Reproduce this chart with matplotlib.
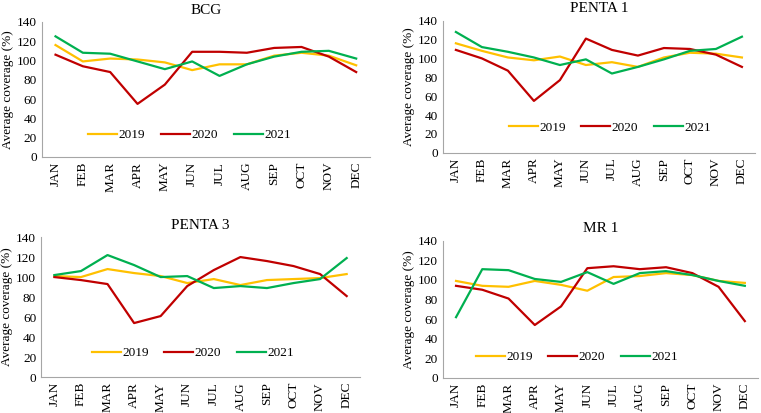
import matplotlib.pyplot as plt
import numpy as np

plt.rcParams['font.family'] = ['Liberation Serif', 'DejaVu Serif']

months = ['JAN', 'FEB', 'MAR', 'APR', 'MAY', 'JUN',
          'JUL', 'AUG', 'SEP', 'OCT', 'NOV', 'DEC']
years = ['2019', '2020', '2021']

bcg_2019 = [116, 99, 102, 101, 98, 90, 96, 96, 105, 108, 105, 95]
bcg_2020 = [106, 94, 88, 55, 75, 109, 109, 108, 113, 114, 104, 88]
bcg_2021 = [125, 108, 107, 99, 91, 99, 84, 96, 104, 109, 110, 102]

penta1_2019 = [116, 108, 101, 98, 102, 93, 96, 91, 101, 106, 105, 101]
penta1_2020 = [109, 100, 87, 55, 77, 121, 109, 103, 111, 110, 104, 91]
penta1_2021 = [128, 112, 107, 101, 93, 99, 84, 91, 99, 108, 110, 123]

penta3_2019 = [101, 100, 108, 104, 101, 94, 98, 92, 97, 98, 99, 103]
penta3_2020 = [100, 97, 93, 54, 61, 91, 107, 120, 116, 111, 103, 81]
penta3_2021 = [102, 106, 122, 112, 100, 101, 89, 91, 89, 94, 98, 119]

mr1_2019 = [99, 94, 93, 99, 95, 89, 103, 104, 107, 105, 99, 97]
mr1_2020 = [94, 90, 81, 54, 73, 112, 114, 111, 113, 107, 93, 58]
mr1_2021 = [62, 111, 110, 101, 98, 108, 96, 107, 109, 105, 99, 94]

colors = ['#FFC000', '#C00000', '#00B050']

panels = [
    ('BCG', [bcg_2019, bcg_2020, bcg_2021], [0.055, 0.620, 0.431, 0.327], (0.45, 0.16)),
    ('PENTA 1', [penta1_2019, penta1_2020, penta1_2021], [0.582, 0.630, 0.410, 0.320], (0.535, 0.19)),
    ('PENTA 3', [penta3_2019, penta3_2020, penta3_2021], [0.054, 0.087, 0.419, 0.339], (0.476, 0.17)),
    ('MR 1', [mr1_2019, mr1_2020, mr1_2021], [0.582, 0.085, 0.414, 0.332], (0.425, 0.15)),
]

fig = plt.figure(figsize=(7.61, 4.13), dpi=100)
x = np.arange(len(months))

for title, series, pos, leg_pos in panels:
    ax = fig.add_axes(pos)
    for vals, year, c in zip(series, years, colors):
        ax.plot(x, vals, color=c, lw=1.6, label=year)
    ax.set_xlim(-0.5, 11.5)
    ax.set_ylim(0, 140)
    ax.set_yticks(np.arange(0, 141, 20))
    ax.set_xticks(x)
    ax.set_xticklabels(months, rotation=90)
    ax.tick_params(length=0, labelsize=9.5)
    ax.set_ylabel('Average coverage (%)', fontsize=9.5, labelpad=2)
    ax.set_title(title, fontsize=11, pad=6)
    for s in ['top', 'right']:
        ax.spines[s].set_visible(False)
    for s in ['left', 'bottom']:
        ax.spines[s].set_color('#a6a6a6')
    ax.legend(loc='center', bbox_to_anchor=leg_pos, ncol=3, frameon=False,
              fontsize=9.5, handlelength=2.2, columnspacing=1.2, handletextpad=0.1)

fig.savefig('out.png', dpi=100)
